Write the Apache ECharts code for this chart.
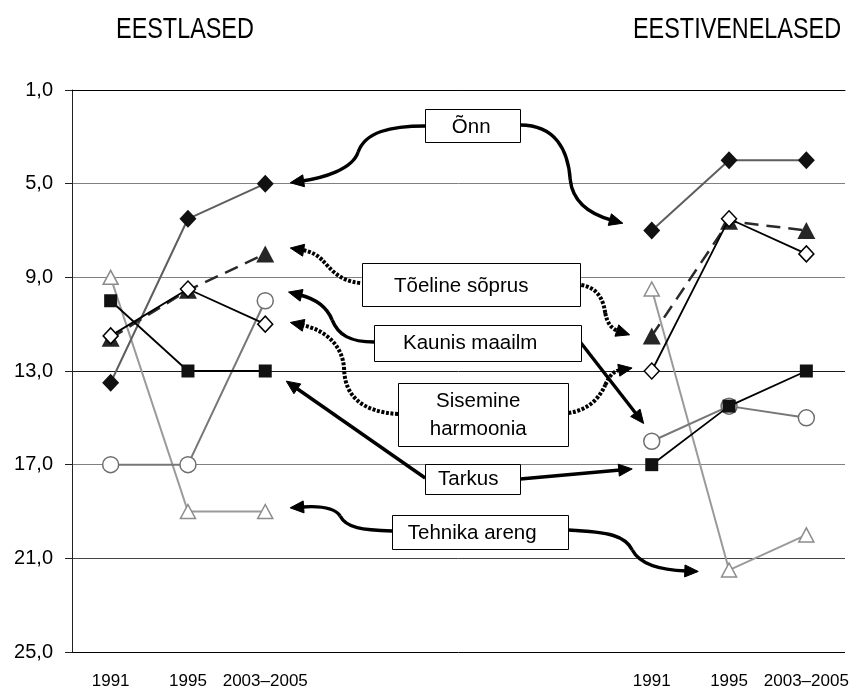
<!DOCTYPE html>
<html><head><meta charset="utf-8">
<script src="https://cdn.jsdelivr.net/npm/echarts@6/dist/echarts.min.js"></script>
<style>html,body{margin:0;padding:0;background:#fff}#c{width:857px;height:693px}</style>
</head><body><div id="c"></div>
<script>
// ---------- data ----------
const yearLabels = ['1991', '1995', '2003–2005'];
const gapSlots = 4;
const categories = [...yearLabels, ...Array(gapSlots).fill(''), ...yearLabels];
const groupTitles = ['EESTLASED', 'EESTIVENELASED'];
const valueMin = 1, valueMax = 25, valueStep = 4;

const seriesNames = ['Õnn', 'Tõeline sõprus', 'Kaunis maailm', 'Sisemine harmoonia', 'Tarkus', 'Tehnika areng'];
// Eestlased (left group) and Eestivenelased (right group), mean rank
const onnEst = [13.5, 6.5, 5.0];
const onnVen = [7.0, 4.0, 4.0];
const soprusEst = [11.6, 9.55, 8.0];
const soprusVen = [11.5, 6.6, 7.0];
const kaunisEst = [11.5, 9.5, 11.0];
const kaunisVen = [13.0, 6.5, 8.0];
const harmooniaEst = [17.0, 17.0, 10.0];
const harmooniaVen = [16.0, 14.5, 15.0];
const tarkusEst = [10.0, 13.0, 13.0];
const tarkusVen = [17.0, 14.5, 13.0];
const tehnikaEst = [9.0, 19.0, 19.0];
const tehnikaVen = [9.5, 21.5, 20.0];

// ---------- styles ----------
const FONT = '"Liberation Sans", Arial, sans-serif';
const styleByName = {
  'Tehnika areng':     {z: 2, symbol: 'triangle', size: [15, 14], line: {color: '#9a9a9a', width: 2}, item: {color: '#fff', borderColor: '#8c8c8c', borderWidth: 1.5}},
  'Sisemine harmoonia':{z: 3, symbol: 'circle', size: 16, line: {color: '#777', width: 2}, item: {color: '#fff', borderColor: '#6e6e6e', borderWidth: 1.5}},
  'Õnn':               {z: 4, symbol: 'diamond', size: [17, 18], line: {color: '#5e5e5e', width: 2}, item: {color: '#111', borderColor: '#111', borderWidth: 0}},
  'Tõeline sõprus':    {z: 5, symbol: 'triangle', size: [18, 17], line: {color: '#2a2a2a', width: 2.5, type: [14, 8]}, item: {color: '#262626', borderWidth: 0}},
  'Kaunis maailm':     {z: 6, symbol: 'diamond', size: [15, 16], line: {color: '#000', width: 1.8}, item: {color: '#fff', borderColor: '#000', borderWidth: 1.5}},
  'Tarkus':            {z: 7, symbol: 'rect', size: 13, line: {color: '#000', width: 1.8}, item: {color: '#111', borderWidth: 0}}
};
const valuesByName = {
  'Õnn': [onnEst, onnVen],
  'Tõeline sõprus': [soprusEst, soprusVen],
  'Kaunis maailm': [kaunisEst, kaunisVen],
  'Sisemine harmoonia': [harmooniaEst, harmooniaVen],
  'Tarkus': [tarkusEst, tarkusVen],
  'Tehnika areng': [tehnikaEst, tehnikaVen]
};
// axis is offset so that ticks start at a multiple of the interval
const toAxis = v => v - valueMin;
const joinGroups = (a, b) => [...a.map(toAxis), ...Array(gapSlots).fill('-'), ...b.map(toAxis)];

const series = seriesNames.map(name => {
  const s = styleByName[name];
  return {
    name, type: 'line', z: s.z,
    data: joinGroups(valuesByName[name][0], valuesByName[name][1]),
    connectNulls: false, symbol: s.symbol, symbolSize: s.size,
    showAllSymbol: true, animation: false,
    lineStyle: {color: s.line.color, width: s.line.width, type: s.line.type || 'solid'},
    itemStyle: s.item,
    emphasis: {disabled: true}
  };
});

const chart = echarts.init(document.getElementById('c'), null, {renderer: 'canvas'});
chart.setOption({
  animation: false,
  backgroundColor: '#fff',
  grid: {left: 72, right: 12, top: 90, bottom: 41, containLabel: false},
  xAxis: {
    type: 'category', data: categories, boundaryGap: true,
    axisLine: {show: true, lineStyle: {color: '#000', width: 1}},
    axisTick: {show: false},
    axisLabel: {interval: 0, margin: 21, color: '#000', fontSize: 17, fontFamily: FONT},
    splitLine: {show: false}
  },
  yAxis: {
    type: 'value', inverse: true, min: 0, max: valueMax - valueMin, interval: valueStep,
    axisLine: {show: true, lineStyle: {color: '#222', width: 1}},
    axisTick: {show: true, length: 7, lineStyle: {color: '#222'}},
    axisLabel: {margin: 19, color: '#000', fontSize: 20, fontFamily: FONT,
      formatter: v => (v + valueMin).toFixed(1).replace('.', ',')},
    splitLine: {show: true, lineStyle: {color: ['#000', '#808080', '#808080', '#1a1a1a', '#808080', '#444', '#000'], width: 1}}
  },
  series
});

// ---------- annotations (laid out in a reference frame anchored to the axes) ----------
const REF = {x0: 110.6, x9: 806, y0: 90, y24: 652};
const annotationBoxes = [
  {text: 'Õnn', box: [425, 109, 95, 33], tx: 471, ty: 127},
  {text: 'Tõeline sõprus', box: [362, 263, 218, 43], tx: 461, ty: 286},
  {text: 'Kaunis maailm', box: [374, 325, 207, 36], tx: 470, ty: 343},
  {text: 'Sisemine\nharmoonia', box: [398, 383, 170, 63], tx: 478, ty: 415},
  {text: 'Tarkus', box: [425, 464, 95, 30], tx: 468, ty: 479},
  {text: 'Tehnika areng', box: [392, 515, 176, 34], tx: 472, ty: 533}
];
// each arrow: start point, then cubic segments [c1, c2, end] or line segment [end]; dotted or solid
const annotationArrows = [
  {dotted: false, pts: [[425,126], [[390,126],[365,132],[358,152]], [[352,170],[322,178],[302,181]]]},
  {dotted: false, pts: [[520,125], [[555,125],[568,150],[570,180]], [[573,205],[593,215],[611,220]]]},
  {dotted: true,  pts: [[360,283], [[338,281],[330,268],[322,260]], [[315,253],[308,251],[302,250]]]},
  {dotted: true,  pts: [[581,285], [[598,288],[603,300],[605,313]], [[607,324],[612,329],[618,331]]]},
  {dotted: false, pts: [[374,342], [[350,342],[338,335],[332,320]], [[326,305],[312,298],[300,295]]]},
  {dotted: false, pts: [[580,342], [[636,414]]]},
  {dotted: true,  pts: [[398,414], [[362,412],[345,396],[344,370]], [[343,345],[325,330],[302,325]]]},
  {dotted: true,  pts: [[568,413], [[590,410],[600,396],[605,385]], [[610,374],[614,371],[620,370]]]},
  {dotted: false, pts: [[425,478], [[296,388]]]},
  {dotted: false, pts: [[520,479], [[620,470]]]},
  {dotted: false, pts: [[392,531], [[362,530],[346,528],[340,516]], [[334,507],[316,506],[302,507]]]},
  {dotted: false, pts: [[568,530], [[610,532],[625,536],[632,550]], [[640,565],[660,570],[686,571]]]}
];

function drawAnnotations() {
  const ax0 = chart.convertToPixel({xAxisIndex: 0}, 0);
  const ax9 = chart.convertToPixel({xAxisIndex: 0}, 9);
  const ay0 = chart.convertToPixel({yAxisIndex: 0}, 0);
  const ay24 = chart.convertToPixel({yAxisIndex: 0}, valueMax - valueMin);
  const sx = (ax9 - ax0) / (REF.x9 - REF.x0), sy = (ay24 - ay0) / (REF.y24 - REF.y0);
  const X = x => ax0 + (x - REF.x0) * sx;
  const Y = y => ay0 + (y - REF.y0) * sy;
  const P = p => [X(p[0]), Y(p[1])];
  const g = [];

  annotationArrows.forEach(a => {
    const lineStyle = {stroke: '#000', fill: null, lineWidth: a.dotted ? 4 : 3.4, lineDash: a.dotted ? [3, 1.6] : null};
    let cur = P(a.pts[0]);
    let prev = cur;
    a.pts.slice(1).forEach(seg => {
      const q = seg.map(P);
      if (q.length === 3) {
        g.push({type: 'bezierCurve', z: 100, silent: true,
          shape: {x1: cur[0], y1: cur[1], cpx1: q[0][0], cpy1: q[0][1], cpx2: q[1][0], cpy2: q[1][1], x2: q[2][0], y2: q[2][1]},
          style: Object.assign({}, lineStyle)});
        prev = q[1]; cur = q[2];
      } else {
        g.push({type: 'line', z: 100, silent: true,
          shape: {x1: cur[0], y1: cur[1], x2: q[0][0], y2: q[0][1]},
          style: Object.assign({}, lineStyle)});
        prev = cur; cur = q[0];
      }
    });
    const dx = cur[0] - prev[0], dy = cur[1] - prev[1];
    const len = Math.hypot(dx, dy) || 1;
    const ux = dx / len, uy = dy / len;
    const L = 12, W = 6;
    const tip = [cur[0] + ux * L, cur[1] + uy * L];
    const back = [cur[0] - ux * 1.5, cur[1] - uy * 1.5];
    g.push({type: 'polygon', z: 101, silent: true,
      shape: {points: [tip, [back[0] - uy * W, back[1] + ux * W], [back[0] + uy * W, back[1] - ux * W]]},
      style: {fill: '#000', stroke: '#000', lineWidth: 1}});
  });

  annotationBoxes.forEach(b => {
    const p1 = P([b.box[0], b.box[1]]), p2 = P([b.box[0] + b.box[2], b.box[1] + b.box[3]]);
    g.push({type: 'rect', z: 110, silent: true,
      shape: {x: Math.round(p1[0]) + 0.5, y: Math.round(p1[1]) + 0.5, width: Math.round(p2[0] - p1[0]), height: Math.round(p2[1] - p1[1])},
      style: {fill: '#fff', stroke: '#000', lineWidth: 1}});
    const t = P([b.tx, b.ty]);
    g.push({type: 'text', z: 111, silent: true, x: t[0], y: t[1],
      style: {text: b.text, font: '20.5px ' + FONT, fill: '#000', lineHeight: 28,
        align: 'center', verticalAlign: 'middle', textAlign: 'center', textVerticalAlign: 'middle'}});
  });

  // group titles centred over each group of categories
  const titleX = [chart.convertToPixel({xAxisIndex: 0}, 1), chart.convertToPixel({xAxisIndex: 0}, 8)];
  const titleDx = [-3, 8];
  groupTitles.forEach((t, i) => {
    g.push({type: 'text', z: 111, silent: true, x: titleX[i] + titleDx[i], y: 30, scaleX: 0.78,
      style: {text: t, font: '30px ' + FONT, fill: '#000',
        align: 'center', verticalAlign: 'middle', textAlign: 'center', textVerticalAlign: 'middle'}});
  });

  chart.setOption({graphic: {elements: g}});
}
drawAnnotations();
</script>
</body></html>
